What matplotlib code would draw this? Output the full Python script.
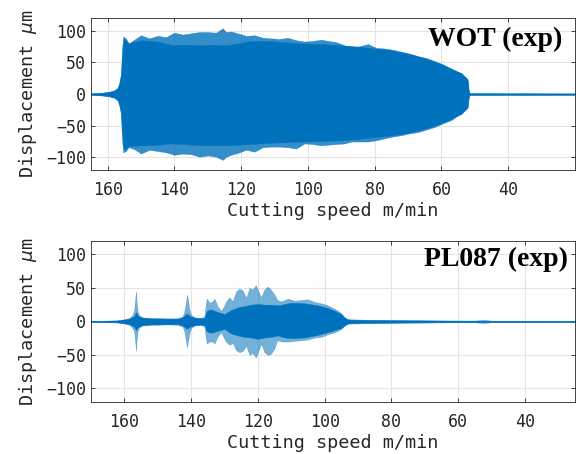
import numpy as np
import matplotlib
matplotlib.use("Agg")
import matplotlib.pyplot as plt

# WOT run: peak envelope of the displacement signal (speed in m/min)
wot_speed = [165, 162, 160, 158, 157, 156.5, 156, 155.7, 155.3, 154.5, 153.7, 152, 150,
             147.5, 145, 142.5, 140, 137.5, 135, 132.5, 130, 127.5, 125.5, 124.5, 123,
             121, 118.5, 116, 113.5, 111, 108.5, 106, 103.5, 101, 98.5, 96, 94, 91.5,
             89, 87, 85, 82, 79.5, 77, 74.5, 72, 69.5, 67, 64.5, 62, 59.5, 57, 55.5,
             54, 53, 52.2, 51.8, 51.5, 45, 40, 35, 30, 25, 20]
wot_upper = [1, 2, 3, 6, 10, 18, 32, 70, 91, 88, 80, 86, 93,
             88, 92, 90, 97, 94, 96, 98, 98, 97, 104, 98, 99,
             96, 92, 93, 89, 88, 87, 89, 85, 83, 84, 86, 84, 82,
             77, 75, 75, 79, 73, 72, 70, 67, 64, 60, 57, 52, 47, 40, 36,
             33, 28, 24, 4, 1.2, 1.2, 1.0, 1.2, 1.0, 1.0, 1.0]
wot_lower = [-1, -2, -3, -6, -10, -18, -32, -70, -92, -90, -84, -87, -94,
             -88, -90, -92, -96, -94, -95, -99, -97, -99, -104, -99, -96,
             -93, -88, -91, -84, -83, -83, -84, -86, -78, -79, -81, -80, -79,
             -78, -75, -75, -75, -73, -70, -67, -65, -62, -60, -56, -52, -46, -41, -35,
             -31, -26, -22, -4, -1.2, -1.2, -1.0, -1.2, -1.0, -1.0, -1.0]

# WOT run: dense body of the signal
wot_core_speed = [165, 162, 160, 158, 157, 156.5, 156, 155.6, 155.2, 153.7, 150, 145, 141,
                  137, 132, 128, 124.6, 121, 117, 112, 107, 102, 96, 90, 85, 80, 76, 72,
                  68, 64, 60, 57, 54, 53, 52.2, 51.8, 51.5, 20]
wot_core_upper = [1, 2, 3, 5, 9, 16, 28, 60, 88, 80, 85, 83, 78,
                  78, 77, 78, 77, 80, 84, 84, 82, 80, 79, 77, 75, 72, 70, 66,
                  61, 55, 47, 40, 33, 27, 23, 4, 1.2, 1]
wot_core_lower = [-1, -2, -3, -5, -9, -16, -28, -60, -88, -82, -81, -80, -78,
                  -79, -81, -81, -81, -80, -79, -77, -76, -75, -74, -73, -71, -68, -66, -63,
                  -59, -53, -46, -39, -31, -25, -21, -4, -1.2, -1]

# PL087 run: peak envelope
pl_speed = [170, 165, 162, 160, 158.5, 157.5, 157, 156.7, 156.5, 156.3, 156, 155.5, 154.5,
            152, 150, 147, 144, 142.5, 142, 141.5, 141.2, 141, 140.5, 140, 139, 137, 136,
            135.6, 135.3, 134.5, 133.5, 133, 132, 131, 130.2, 129.6, 128.5, 127.5, 126.5,
            125.5, 124.5, 123.5, 122.5, 121.5, 120.6, 119.8, 119, 118, 117, 116, 115,
            114.2, 113, 111, 109, 107, 105, 103, 101, 99, 97.5, 96, 95, 94, 93.3, 92, 90,
            87, 84, 80, 75, 70, 65, 60, 55, 52.2, 50, 45, 40, 35, 30, 25]
pl_upper = [0.8, 1, 1.5, 3, 5, 10, 18, 35, 45, 30, 15, 9, 6,
            5, 5, 4.5, 5, 8, 15, 30, 40, 35, 18, 10, 6, 5, 8,
            25, 34, 28, 30, 34, 22, 16, 22, 29, 36, 30, 45,
            49, 46, 35, 50, 48, 54, 45, 36, 48, 52, 47, 40,
            32, 30, 34, 31, 32, 33, 29, 27, 24, 20, 16, 12, 6, 3.5, 3, 3,
            2.5, 2.5, 2, 1.8, 1.6, 1.4, 1.3, 1.3, 2.5, 1.2, 1.1, 1, 1, 1, 1]
pl_lower = [-0.8, -1, -1.5, -3, -5, -10, -16, -32, -44, -28, -14, -9, -6,
            -5, -5, -4.5, -5, -8, -15, -30, -39, -33, -18, -10, -6, -5, -8,
            -24, -33, -30, -30, -33, -22, -16, -24, -30, -35, -32, -43,
            -46, -44, -36, -50, -47, -54, -44, -33, -46, -50, -48, -40,
            -28, -30, -30, -29, -28, -27, -24, -23, -19, -17, -14, -11, -6, -3.5, -3, -3,
            -2.5, -2.5, -2, -1.8, -1.6, -1.4, -1.3, -1.3, -2.5, -1.2, -1.1, -1, -1, -1, -1]

# PL087 run: dense body of the signal
core_speed = [170, 162, 158.5, 157, 156.5, 156, 155, 152, 144, 142.5, 141.3, 140, 138, 136,
              135.3, 134, 132, 130, 128, 126, 124, 122, 120, 118, 116, 114, 112, 110, 106,
              102, 99, 97, 95, 94, 93, 90, 85, 80, 70, 60, 50, 40, 25]
core_upper = [0.8, 1.5, 4, 8, 14, 9, 6, 4.5, 4, 6, 12, 7, 5, 5,
              16, 18, 14, 11, 17, 21, 23, 25, 26, 25, 25, 24, 26, 28, 27,
              24, 20, 16, 11, 6, 3, 2.5, 2, 1.8, 1.5, 1.2, 1.1, 1, 0.8]
core_lower = [-0.8, -1.5, -4, -8, -13, -9, -6, -4.5, -4, -6, -11, -7, -5, -5,
              -15, -17, -14, -11, -18, -21, -23, -24, -26, -24, -23, -21, -24, -25, -24,
              -20, -16, -13, -10, -6, -3, -2.5, -2, -1.8, -1.5, -1.2, -1.1, -1, -0.8]

xticks = [160, 140, 120, 100, 80, 60, 40]
yticks = [-100, -50, 0, 50, 100]

blue = "#0072BD"
axis_gray = "#262626"
label_font = "DejaVu Sans Mono"

fig = plt.figure(figsize=(5.79, 4.54), dpi=100)
ax1 = fig.add_axes([0.157, 0.6256, 0.836, 0.3344])
ax2 = fig.add_axes([0.157, 0.115, 0.836, 0.354])

ax1.fill_between(wot_speed, wot_lower, wot_upper, color=blue, alpha=0.8, linewidth=0.3)
ax1.fill_between(wot_core_speed, wot_core_lower, wot_core_upper, color=blue, linewidth=0.3)
ax2.fill_between(pl_speed, pl_lower, pl_upper, color=blue, alpha=0.55, linewidth=0.3)
ax2.fill_between(core_speed, core_lower, core_upper, color=blue, linewidth=0.3)

ax1.set_xlim(165, 20)
ax2.set_xlim(170, 25)

for ax, name, tx, ty in [(ax1, "WOT (exp)", 0.973, 0.945), (ax2, "PL087 (exp)", 0.986, 0.965)]:
    ax.set_ylim(-120, 120)
    ax.set_xticks(xticks)
    ax.set_yticks(yticks)
    ax.grid(True, color="#e3e3e3", linewidth=0.8)
    ax.set_axisbelow(True)
    ax.tick_params(direction="in", length=3, width=0.6, colors=axis_gray,
                   labelsize=12, top=True, right=True)
    ax.tick_params(axis="x", pad=8)
    for lab in ax.get_xticklabels() + ax.get_yticklabels():
        lab.set_fontfamily(label_font)
    for sp in ax.spines.values():
        sp.set_color(axis_gray)
        sp.set_linewidth(0.6)
    ax.set_xlabel("Cutting speed m/min", fontfamily=label_font, fontsize=13.3,
                  color=axis_gray, labelpad=2)
    ax.set_ylabel(r"Displacement $\mu$m", fontfamily=label_font, fontsize=13.3,
                  color=axis_gray, labelpad=5)
    ax.text(tx, ty, name, transform=ax.transAxes, ha="right", va="top",
            fontfamily="Liberation Serif", fontweight="bold", fontsize=20, color="black")

fig.savefig("out.png", dpi=100)
